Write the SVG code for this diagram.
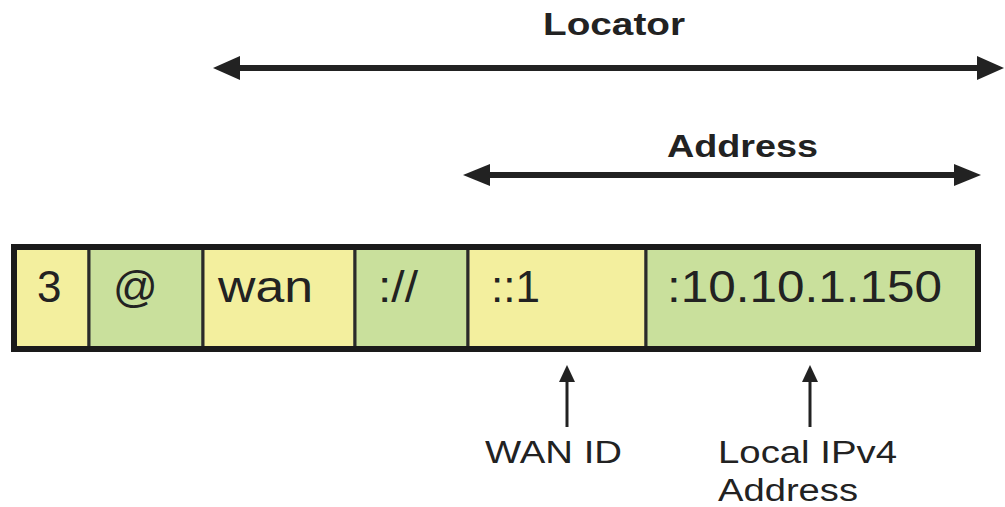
<svg xmlns="http://www.w3.org/2000/svg" width="1005" height="507" viewBox="0 0 1005 507">
<style>
.y{fill:#F3EF9E;stroke:#2a2a2a;stroke-width:3}
.g{fill:#C9E09C;stroke:#2a2a2a;stroke-width:3}
.t{font-family:"Liberation Sans",Arial,sans-serif;font-size:44px;fill:#222}
.h{font-family:"Liberation Sans",Arial,sans-serif;font-size:32px;font-weight:bold;fill:#222}
.l{font-family:"Liberation Sans",Arial,sans-serif;font-size:31px;fill:#222}
.ln{stroke:#222;fill:none}
.ah{fill:#222}
</style>
<rect width="1005" height="507" fill="#fff"/>
<g id="label-locator"><text class="h" x="543" y="35" textLength="142" lengthAdjust="spacingAndGlyphs">Locator</text></g>
<g id="label-address"><text class="h" x="667" y="157" textLength="151" lengthAdjust="spacingAndGlyphs">Address</text></g>
<g id="field">
<g id="cell-3"><rect class="y" x="14" y="247" width="75" height="102"/><text class="t" x="37" y="302">3</text></g>
<g id="cell-at"><rect class="g" x="89" y="247" width="114" height="102"/><text class="t" x="113" y="302">@</text></g>
<g id="cell-wan"><rect class="y" x="203" y="247" width="152" height="102"/><text class="t" x="218" y="302" textLength="95" lengthAdjust="spacingAndGlyphs">wan</text></g>
<g id="cell-sep"><rect class="g" x="355" y="247" width="113" height="102"/><text class="t" x="378" y="302" textLength="40" lengthAdjust="spacingAndGlyphs">://</text></g>
<g id="cell-wanid"><rect class="y" x="468" y="247" width="178" height="102"/><text class="t" x="491" y="302">::1</text></g>
<g id="cell-ipv4"><rect class="g" x="646" y="247" width="332" height="102"/><text class="t" x="667" y="302" textLength="275" lengthAdjust="spacingAndGlyphs">:10.10.1.150</text></g>
<rect x="14" y="247" width="964" height="102" fill="none" stroke="#1a1a1a" stroke-width="6"/>
</g>
<g id="connectors">
<line class="ln" x1="238" y1="68" x2="980" y2="68" stroke-width="6"/>
<polygon class="ah" points="213,68 240,56 240,80"/>
<polygon class="ah" points="1004,68 977,56 977,80"/>
<line class="ln" x1="488" y1="175" x2="956" y2="175" stroke-width="6"/>
<polygon class="ah" points="463,175 490,164 490,186"/>
<polygon class="ah" points="981,175 954,164 954,186"/>
<line class="ln" x1="567" y1="380" x2="567" y2="427" stroke-width="3"/>
<polygon class="ah" points="567,365 575,382 559,382"/>
<line class="ln" x1="810" y1="380" x2="810" y2="427" stroke-width="3"/>
<polygon class="ah" points="810,365 818,382 802,382"/>
</g>
<g id="label-wanid"><text class="l" x="485" y="463" textLength="137" lengthAdjust="spacingAndGlyphs">WAN ID</text></g>
<g id="label-localipv4"><text class="l" x="718" y="463" textLength="179" lengthAdjust="spacingAndGlyphs">Local IPv4</text><text class="l" x="718" y="501" textLength="140" lengthAdjust="spacingAndGlyphs">Address</text></g>
</svg>
